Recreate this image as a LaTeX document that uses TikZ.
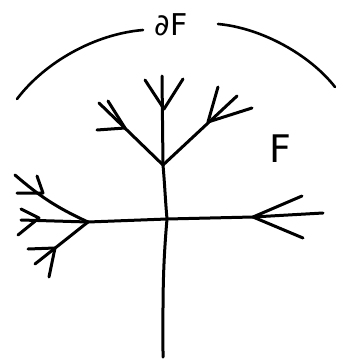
\documentclass[tikz,border=0pt]{standalone}
\usepackage{fontspec}
\setmainfont{DejaVu Sans}
\usepackage{tikz}
\usetikzlibrary{positioning,calc}

\tikzset{
  pen/.style={line width=3pt, line cap=round, line join=round, black},
  penthin/.style={line width=2.6pt, line cap=round, black},
}

\begin{document}
\begin{tikzpicture}[x=1pt, y=-1pt]
    \useasboundingbox (0,0) rectangle (337,361);
    % junctions
    \coordinate (jtop) at (163,165);
    \coordinate (cross) at (167,219);
    \coordinate (jleft) at (88,222);
    \coordinate (bottom) at (163,357);
    % outer ends of the branches
    \coordinate (tipN) at (162,76);
    \coordinate (tipNW) at (99,103);
    \coordinate (tipNE) at (237,96);
    \coordinate (tipE) at (323,213);
    \coordinate (tipL1) at (15,175);
    \coordinate (tipL2) at (21,220);
    \coordinate (tipL3) at (35,264);
    % arrowhead apexes and arms
    \coordinate (apN) at (164,109);   \coordinate (aN1) at (145,80);  \coordinate (aN2) at (183,79);
    \coordinate (apNW) at (125,128);  \coordinate (aNW1) at (97,130); \coordinate (aNW2) at (108,101);
    \coordinate (apNE) at (208,122);  \coordinate (aNE1) at (218,87); \coordinate (aNE2) at (252,108);
    \coordinate (apE) at (253,217);   \coordinate (aE1) at (302,196); \coordinate (aE2) at (303,238);
    \coordinate (apL1) at (43,193);   \coordinate (aL11) at (37,176); \coordinate (aL12) at (17,193);
    \coordinate (apL2) at (39,218);   \coordinate (aL21) at (21,209); \coordinate (aL22) at (18,235);
    \coordinate (apL3) at (55,248);   \coordinate (aL31) at (28,249); \coordinate (aL32) at (49,277);
    % trunk and crossbar
    \draw[pen] (tipN) -- (jtop) to[out=-85, in=95] (cross) to[out=-95, in=90] (bottom);
    \draw[pen] (jleft) -- (cross) -- (apE) -- (tipE);
    % upper branches
    \draw[pen] (jtop) -- (tipNW);
    \draw[pen] (jtop) -- (tipNE);
    % left branches
    \draw[pen] (jleft) to[bend left=8] (tipL1);
    \draw[pen] (jleft) -- (tipL2);
    \draw[pen] (jleft) -- (tipL3);
    % arrowheads pointing inwards
    \foreach \ap/\armA/\armB in {apN/aN1/aN2, apNW/aNW1/aNW2, apNE/aNE1/aNE2, apE/aE1/aE2,
                                 apL1/aL11/aL12, apL2/aL21/aL22, apL3/aL31/aL32} {
        \draw[pen] (\armA) -- (\ap) -- (\armB);
    }
    % boundary arcs
    \draw[penthin] (17,99) .. controls (45,62) and (95,34) .. (143,30);
    \draw[penthin] (218,24) .. controls (262,28) and (310,55) .. (335,87);
    % labels
    \node[font=\fontsize{30}{30}\selectfont, inner sep=0pt] (bdlabel) at (171,25) {∂F};
    \node[font=\fontsize{38}{38}\selectfont, inner sep=0pt] (flabel) at (280,149) {F};
\end{tikzpicture}
\end{document}
